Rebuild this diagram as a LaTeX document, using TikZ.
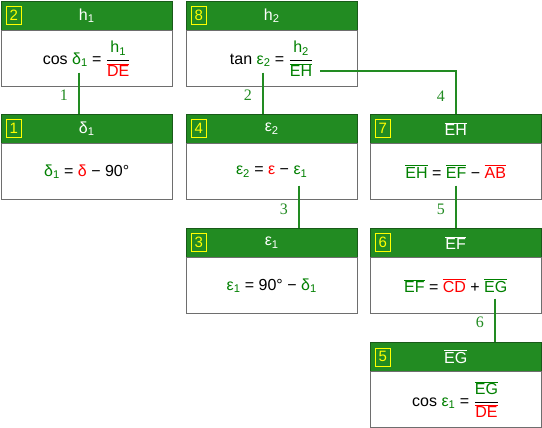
\documentclass[tikz,border=0pt]{standalone}
\usepackage{fontspec}
\setmainfont{Liberation Sans}
\newfontfamily\steplabelfont{Liberation Serif}
\usepackage{tikz}
\usetikzlibrary{positioning,calc}
\definecolor{headcolor}{RGB}{34, 139, 34}
\definecolor{headborder}{RGB}{25, 90, 25}
\definecolor{numcolor}{RGB}{255, 255, 0}
\definecolor{bodyborder}{RGB}{110, 110, 110}
\definecolor{knowncolor}{RGB}{0, 128, 0}
\definecolor{givencolor}{RGB}{255, 0, 0}
\definecolor{linkcolor}{RGB}{34, 139, 34}
\newcommand\grn[1]{\textcolor{knowncolor}{#1}}
\newcommand\rd[1]{\textcolor{givencolor}{#1}}
\newcommand\seg[1]{$\overline{\hbox{#1}}$}
\newcommand\ratio[2]{$\displaystyle{\hbox{#1}\over\hbox{#2}}$}
\newcommand\sub[2]{#1\textsubscript{#2}}
\tikzset{
headbox/.style={
  draw=headborder,
  fill=headcolor,
  text=white,
  minimum width=171pt,
  minimum height=29pt,
  inner sep=0pt,
  font=\fontsize{16}{18}\selectfont
},
bodybox/.style={
  draw=bodyborder,
  fill=white,
  minimum width=171pt,
  minimum height=56pt,
  inner sep=0pt,
  font=\fontsize{16}{18}\selectfont
},
numbox/.style={
  draw=numcolor,
  text=numcolor,
  minimum width=15pt,
  minimum height=18pt,
  inner sep=0pt,
  font=\fontsize{15}{16}\selectfont
},
link/.style={
  draw=linkcolor,
  line width=2pt
},
linklabel/.style={
  text=linkcolor,
  font=\steplabelfont\fontsize{16}{18}\selectfont
}
}

\begin{document}
\begin{tikzpicture}[x=1pt,y=-1pt]
  \useasboundingbox (0,0) rectangle (542,428);

  \node[headbox, anchor=north west] (h2) at (1,1) {\sub{h}{1}};
  \node[bodybox, below=0pt of h2] (b2) {cos \grn{\sub{δ}{1}} = \ratio{\grn{\sub{h}{1}}}{\rd{\seg{DE}}}};
  \node[numbox, right=5pt of h2.west] (n2) {2};

  \node[headbox, anchor=north west] (h1) at (1,114) {\sub{δ}{1}};
  \node[bodybox, below=0pt of h1] (b1) {\grn{\sub{δ}{1}} = \rd{δ} − 90°};
  \node[numbox, right=5pt of h1.west] (n1) {1};

  \node[headbox, anchor=north west] (h8) at (186,1) {\sub{h}{2}};
  \node[bodybox, below=0pt of h8] (b8) {tan \grn{\sub{ε}{2}} = \ratio{\grn{\sub{h}{2}}}{\grn{\seg{EH}}}};
  \node[numbox, right=5pt of h8.west] (n8) {8};

  \node[headbox, anchor=north west] (h4) at (186,114) {\sub{ε}{2}};
  \node[bodybox, below=0pt of h4] (b4) {\grn{\sub{ε}{2}} = \rd{ε} − \grn{\sub{ε}{1}}};
  \node[numbox, right=5pt of h4.west] (n4) {4};

  \node[headbox, anchor=north west] (h3) at (186,228) {\sub{ε}{1}};
  \node[bodybox, below=0pt of h3] (b3) {\grn{\sub{ε}{1}} = 90° − \grn{\sub{δ}{1}}};
  \node[numbox, right=5pt of h3.west] (n3) {3};

  \node[headbox, anchor=north west] (h7) at (370,114) {\seg{EH}};
  \node[bodybox, below=0pt of h7] (b7) {\grn{\seg{EH}} = \grn{\seg{EF}} − \rd{\seg{AB}}};
  \node[numbox, right=5pt of h7.west] (n7) {7};

  \node[headbox, anchor=north west] (h6) at (370,228) {\seg{EF}};
  \node[bodybox, below=0pt of h6] (b6) {\grn{\seg{EF}} = \rd{\seg{CD}} + \grn{\seg{EG}}};
  \node[numbox, right=5pt of h6.west] (n6) {6};

  \node[headbox, anchor=north west] (h5) at (370,342) {\seg{EG}};
  \node[bodybox, below=0pt of h5] (b5) {cos \grn{\sub{ε}{1}} = \ratio{\grn{\seg{EG}}}{\rd{\seg{DE}}}};
  \node[numbox, right=5pt of h5.west] (n5) {5};

  \coordinate (s1) at ([shift={(-7.5,14)}]b2.center);
  \coordinate (s2) at ([shift={(-8.5,14)}]b8.center);
  \coordinate (s3) at ([shift={(27.5,14)}]b4.center);
  \coordinate (s4) at ([shift={(48.5,12)}]b8.center);
  \coordinate (s5) at ([shift={(0.5,14)}]b7.center);
  \coordinate (s6) at ([shift={(39.5,13)}]b6.center);

  \draw[link] (s1) -- (s1 |- h1.north) node[linklabel, pos=0.55, left=7pt] {1};
  \draw[link] (s2) -- (s2 |- h4.north) node[linklabel, pos=0.55, left=7pt] {2};
  \draw[link] (s3) -- (s3 |- h3.north) node[linklabel, pos=0.55, left=7pt] {3};
  \draw[link] (s4) -| (s5 |- h7.north) node[linklabel, pos=0.8, left=7pt] {4};
  \draw[link] (s5) -- (s5 |- h6.north) node[linklabel, pos=0.55, left=7pt] {5};
  \draw[link] (s6) -- (s6 |- h5.north) node[linklabel, pos=0.55, left=7pt] {6};
\end{tikzpicture}
\end{document}
